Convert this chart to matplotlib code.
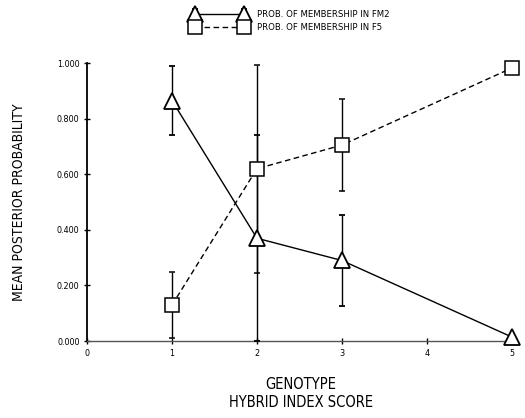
import matplotlib
matplotlib.use("Agg")
import matplotlib.pyplot as plt
from matplotlib import font_manager

# Prefer a narrow sans face; fall back to a condensed DejaVu or plain Liberation Sans
fonts = font_manager.fontManager.ttflist
names = {f.name for f in fonts}
stretch = "normal"
if "Liberation Sans Narrow" in names:
    base = "Liberation Sans Narrow"
elif any(f.name == "DejaVu Sans" and f.stretch == "condensed" for f in fonts):
    base = "DejaVu Sans"
    stretch = "condensed"
else:
    base = "Liberation Sans"
plt.rcParams["font.family"] = [base, "DejaVu Sans"]
plt.rcParams["font.stretch"] = stretch

# Hybrid index scores and mean posterior probabilities
scores = [1, 2, 3, 5]
fm2_mean = [0.865, 0.37, 0.29, 0.015]
fm2_err = [0.125, 0.37, 0.165, 0.0]
f5_mean = [0.13, 0.62, 0.705, 0.982]
f5_err = [0.12, 0.375, 0.165, 0.0]

x_ticks = [0, 1, 2, 3, 4, 5]
y_ticks = [0.0, 0.2, 0.4, 0.6, 0.8, 1.0]
y_tick_labels = ["0.000", "0.200", "0.400", "0.600", "0.800", "1.000"]

fig = plt.figure(figsize=(5.25, 4.18), dpi=100)
ax = fig.add_axes([0.166, 0.184, 0.815, 0.665])

ax.errorbar(scores, fm2_mean, yerr=fm2_err, color="black", lw=1.0,
            elinewidth=1.0, capsize=2.5, capthick=1.0, ls="-",
            marker="^", markersize=11, markerfacecolor="white",
            markeredgecolor="black", markeredgewidth=1.3,
            label="PROB. OF MEMBERSHIP IN FM2", zorder=3, clip_on=False)
ax.errorbar(scores, f5_mean, yerr=f5_err, color="black", lw=1.0,
            elinewidth=1.0, capsize=2.5, capthick=1.0, ls=(0, (4, 2.5)),
            marker="s", markersize=10, markerfacecolor="white",
            markeredgecolor="black", markeredgewidth=1.1,
            label="PROB. OF MEMBERSHIP IN F5", zorder=3, clip_on=False)

ax.set_xlim(0, 5.04)
ax.set_ylim(0, 1.0)
ax.set_xticks(x_ticks)
ax.set_yticks(y_ticks)
ax.set_yticklabels(y_tick_labels)
ax.tick_params(direction="inout", length=5, width=1.0, labelsize=6.5, pad=3)
for s in ["top", "right"]:
    ax.spines[s].set_visible(False)
ax.spines["left"].set_linewidth(1.3)
ax.spines["bottom"].set_linewidth(1.0)
ax.spines["bottom"].set_color("#555555")

ax.set_ylabel("MEAN POSTERIOR PROBABILITY", fontsize=10, labelpad=22)
ax.set_xlabel("GENOTYPE\nHYBRID INDEX SCORE", fontsize=10.5, labelpad=14,
              linespacing=1.25)

fig.legend(loc="upper left", bbox_to_anchor=(0.355, 0.99), frameon=False,
           numpoints=2, fontsize=6.8, handlelength=5.75, handletextpad=1.1,
           labelspacing=0.49, borderaxespad=0.2)

fig.savefig("out.png", dpi=100)
